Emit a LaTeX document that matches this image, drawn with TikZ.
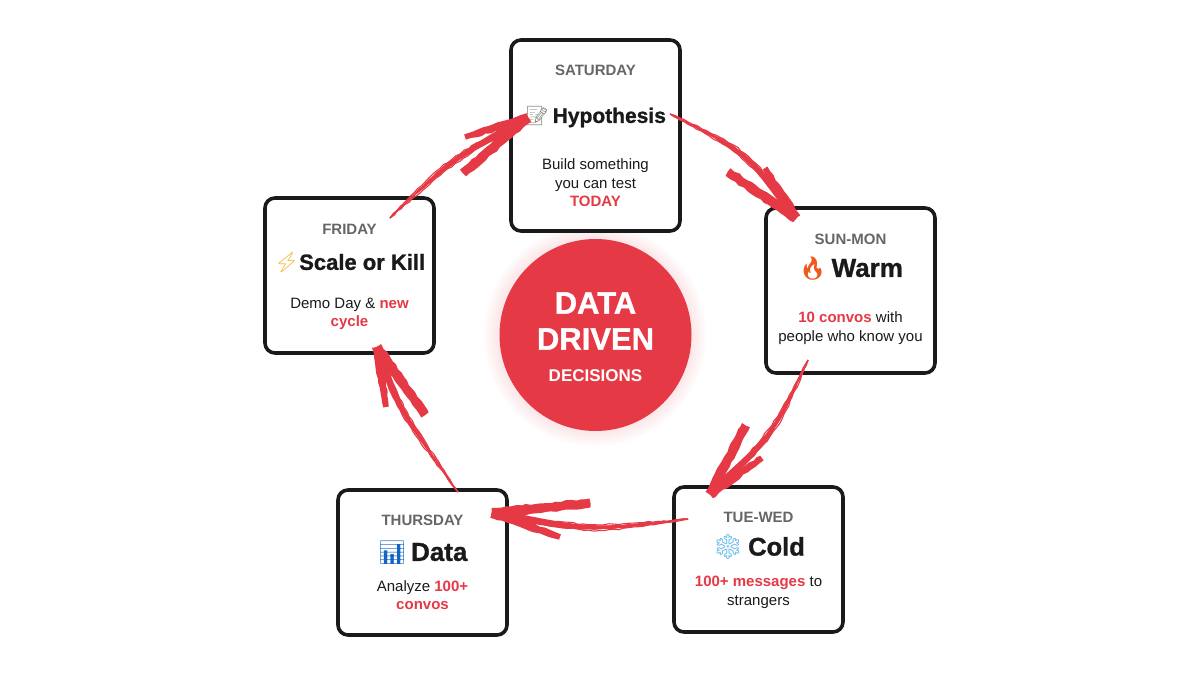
\documentclass[tikz,border=0pt]{standalone}
\usepackage{fontspec}
\setmainfont{Liberation Sans}
\newfontfamily\emojifont{Noto Emoji}
\newfontfamily\heavyfont[BoldFeatures={FakeBold=1.1}]{Liberation Sans}
\usetikzlibrary{positioning, calc, shadows, decorations.pathmorphing}

\definecolor{hotred}{HTML}{E63946}
\definecolor{inkblack}{HTML}{1A1A1A}
\definecolor{daygray}{HTML}{666666}
\definecolor{memogray}{HTML}{8A8A80}
\definecolor{firered}{HTML}{F2571E}
\definecolor{iceblue}{HTML}{6DBBEE}
\definecolor{chartblue}{HTML}{1565C0}
\definecolor{boltyellow}{HTML}{F5B32A}

\newcommand{\hot}[1]{{\bfseries\color{hotred}#1}}
\newcommand{\emo}[3]{{\emojifont\fontsize{#1}{#1}\selectfont\color{#2}#3}}

\tikzset{
  card/.style={draw=inkblack, line width=3.6pt, fill=white, rounded corners=10pt,
    minimum width=169pt, drop shadow={opacity=.08, shadow xshift=0pt, shadow yshift=-2pt}},
  daylabel/.style={font=\fontsize{15}{18}\selectfont\bfseries, text=daygray},
  titlelabel/.style={font=\heavyfont\fontsize{#1}{28}\selectfont\bfseries, text=inkblack},
  desclabel/.style={font=\fontsize{15}{18.5}\selectfont, text=inkblack, align=center},
  corelabel/.style={font=\heavyfont\fontsize{31}{34}\selectfont\bfseries, text=white},
  rough/.style={decorate, decoration={random steps, segment length=5pt, amplitude=.8pt}},
  strand/.style={draw=hotred, line width=1.1pt, rough},
  barb/.style={fill=hotred, rough},
}

% start, bend, tip, thick barb, thin barb
\newcommand{\sketcharrow}[5]{
  \fill[hotred] (#1) .. controls ($(#2)!2.2pt!-90:(#3)$) and ($(#2)!2.2pt!-90:(#3)$) .. ($(#3)!4.5pt!90:(#2)$)
    -- ($(#3)!4.5pt!-90:(#2)$) .. controls ($(#2)!2.2pt!90:(#3)$) and ($(#2)!2.2pt!90:(#3)$) .. (#1) -- cycle;
  \foreach \off in {-4,-2,2,4}
    \draw[strand] (#1) .. controls ($(#2)!\off pt!90:(#3)$) and ($(#2)!\off pt!90:(#3)$) .. (#3);
  \foreach \tipend/\wid in {#4/4.5,#5/2.8}
    \fill[barb] ($(#3)!5pt!90:(\tipend)$) -- ($(\tipend)!\wid pt!-90:(#3)$) -- ($(\tipend)!\wid pt!90:(#3)$)
      -- ($(#3)!5pt!-90:(\tipend)$) -- cycle;
}

\begin{document}
\begin{tikzpicture}[x=1pt,y=-1pt,node distance=40pt,on grid]
  \useasboundingbox (0,0) rectangle (1200,675);
  \pgfmathsetseed{7}

  % soft glow round the middle
  \foreach \r in {1,...,16}
    \fill[hotred, opacity=.009] (595,335) circle ({(96+\r)*1pt});

  \node[card, minimum height=191pt] (sat) at (595.5,135.5) {};
  \node[card, minimum height=165pt] (sun) [below right=155pt and 255pt of sat] {};
  \node[card, minimum height=145pt] (tue) [below left=269pt and 92pt of sun] {};
  \node[card, minimum height=145pt] (thu) [below left=3pt and 336pt of tue] {};
  \node[card, minimum height=155pt] (fri) [below left=140pt and 246pt of sat] {};
  \node[circle, fill=hotred, minimum size=192pt] (core) [below=199.5pt of sat] {};

  \node[daylabel] (sat_day) [above=65.5pt of sat] {SATURDAY};
  \node[titlelabel=21] (sat_title) [below=47pt of sat_day] {\emo{19}{memogray}{📝}\,Hypothesis};
  \node[desclabel] (sat_text) [below=66pt of sat_title] {Build something\\you can test\\\hot{TODAY}};

  \node[daylabel] (sun_day) [above=51.5pt of sun] {SUN-MON};
  \node[titlelabel=26] (sun_title) [below=30pt of sun_day] {\emo{23}{firered}{🔥}\,Warm};
  \node[desclabel] (sun_text) [below=59pt of sun_title] {\hot{10 convos} with\\people who know you};

  \node[daylabel] (tue_day) [above=42.5pt of tue] {TUE-WED};
  \node[titlelabel=25.5] (tue_title) [below=30pt of tue_day] {\emo{25}{iceblue}{❄}\,Cold};
  \node[desclabel] (tue_text) [below=45.5pt of tue_title] {\hot{100+ messages} to\\strangers};

  \node[daylabel] (thu_day) [above=42.5pt of thu] {THURSDAY};
  \node[titlelabel=26] (thu_title) [below=33pt of thu_day] {\emo{23}{chartblue}{📊}\,Data};
  \node[desclabel] (thu_text) [below=42pt of thu_title] {Analyze \hot{100+}\\\hot{convos}};

  \node[daylabel] (fri_day) [above=46.5pt of fri] {FRIDAY};
  \node[titlelabel=22] (fri_title) [below=34pt of fri_day] {\emo{20}{boltyellow}{⚡}Scale or Kill};
  \node[desclabel] (fri_text) [below=51pt of fri_title] {Demo Day \& \hot{new}\\\hot{cycle}};

  \node[corelabel] (core_a) [above=32pt of core] {DATA};
  \node[corelabel] (core_b) [below=36pt of core_a] {DRIVEN};
  \node[font=\fontsize{17}{20}\selectfont\bfseries, text=white] (core_c) [below=37pt of core_b] {DECISIONS};

  \coordinate (sat_out) at (670,114);
  \coordinate (sat_bend) at (746,152);
  \coordinate (sun_in) at (796,218);
  \coordinate (sun_b1) at (728,172);
  \coordinate (sun_b2) at (765,168);
  \coordinate (sun_out) at (808,360);
  \coordinate (sun_bend) at (772,436);
  \coordinate (tue_in) at (710,494);
  \coordinate (tue_b1) at (746,425);
  \coordinate (tue_b2) at (762,458);
  \coordinate (tue_out) at (688,519);
  \coordinate (tue_bend) at (590,531);
  \coordinate (thu_in) at (492,513);
  \coordinate (thu_b1) at (590,503);
  \coordinate (thu_b2) at (560,537);
  \coordinate (thu_out) at (458,492);
  \coordinate (thu_bend) at (399,409);
  \coordinate (fri_in) at (377,347);
  \coordinate (fri_b1) at (425,415);
  \coordinate (fri_b2) at (386,407);
  \coordinate (fri_out) at (390,218);
  \coordinate (fri_bend) at (452,159);
  \coordinate (sat_in) at (528,118);
  \coordinate (sat_b1) at (463,173);
  \coordinate (sat_b2) at (465,137);

  \sketcharrow{sat_out}{sat_bend}{sun_in}{sun_b1}{sun_b2}
  \sketcharrow{sun_out}{sun_bend}{tue_in}{tue_b1}{tue_b2}
  \sketcharrow{tue_out}{tue_bend}{thu_in}{thu_b1}{thu_b2}
  \sketcharrow{thu_out}{thu_bend}{fri_in}{fri_b1}{fri_b2}
  \sketcharrow{fri_out}{fri_bend}{sat_in}{sat_b1}{sat_b2}
\end{tikzpicture}
\end{document}
